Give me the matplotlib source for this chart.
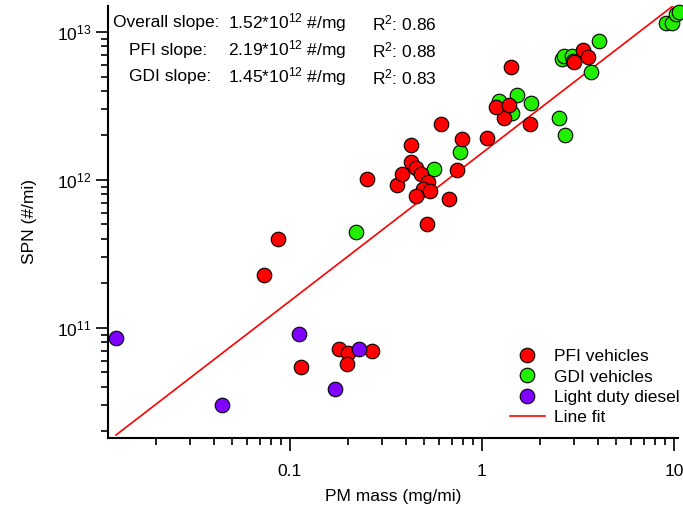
import numpy as np
import matplotlib
matplotlib.use("Agg")
import matplotlib.pyplot as plt
from matplotlib.ticker import LogLocator, NullFormatter, FixedLocator, FixedFormatter
from matplotlib.lines import Line2D

plt.rcParams['font.family'] = ['Liberation Sans', 'DejaVu Sans']
plt.rcParams['mathtext.fontset'] = 'custom'
plt.rcParams['mathtext.rm'] = 'Liberation Sans'
plt.rcParams['mathtext.default'] = 'regular'

# PM mass (mg/mi) and SPN (#/mi)
pfi_pm = [0.180, 0.200, 0.198, 0.267, 0.114, 0.0866, 0.0732, 0.252, 0.360, 0.383,
          0.426, 0.426, 0.453, 0.481, 0.525, 0.491, 0.538, 0.453, 0.519, 0.614,
          0.673, 0.783, 0.738, 1.058, 1.77, 1.30, 1.19, 1.38, 1.41, 3.37, 3.55, 3.03]
pfi_spn = [7.2e10, 6.77e10, 5.74e10, 6.98e10, 5.44e10, 4.01e11, 2.29e11, 1.02e12, 9.3e11, 1.09e12,
           1.71e12, 1.33e12, 1.20e12, 1.10e12, 9.66e11, 8.62e11, 8.45e11, 7.81e11, 5.05e11, 2.39e12,
           7.49e11, 1.90e12, 1.16e12, 1.92e12, 2.38e12, 2.62e12, 3.13e12, 3.21e12, 5.76e12, 7.55e12, 6.74e12, 6.23e12]

gdi_pm = [0.221, 0.560, 0.767, 2.51, 2.72, 1.79, 1.53, 1.43, 1.22, 3.68,
          4.08, 2.60, 2.67, 2.93, 2.99, 9.05, 9.73, 10.3, 10.66]
gdi_spn = [4.45e11, 1.19e12, 1.55e12, 2.64e12, 2.00e12, 3.29e12, 3.76e12, 2.84e12, 3.41e12, 5.38e12,
           8.65e12, 6.56e12, 6.91e12, 6.91e12, 6.39e12, 1.15e13, 1.16e13, 1.32e13, 1.36e13]

ldd_pm = [0.0124, 0.111, 0.229, 0.171, 0.0442]
ldd_spn = [8.55e10, 9.1e10, 7.2e10, 3.83e10, 3.0e10]

fit_slope = 1.52e12
fit_range = [0.0124, 10.6]

slopes = [("Overall slope:", "1.52", "0.86"),
          ("PFI slope:", "2.19", "0.88"),
          ("GDI slope:", "1.45", "0.83")]

W, H = 683, 512
FS = 12.5
fig = plt.figure(figsize=(W / 100, H / 100), dpi=100)
ax = fig.add_axes([108 / W, 1 - 438 / H, (678 - 108) / W, (438 - 6) / H])
ax.set_xscale('log')
ax.set_yscale('log')
ax.set_xlim(0.01127, 10.5)
ax.set_ylim(1.8e10, 1.5e13)

mk = dict(s=110, edgecolors='black', linewidths=0.8, zorder=3, clip_on=False)
fx = np.array(fit_range)
ax.plot(fx, fit_slope * fx, color='#ff0000', lw=1.2, zorder=2)
ax.scatter(gdi_pm, gdi_spn, c='#22ee00', **mk)
ax.scatter(pfi_pm, pfi_spn, c='#ff0000', **mk)
ax.scatter(ldd_pm, ldd_spn, c='#7f00ff', **mk)

for s in ['top', 'right']:
    ax.spines[s].set_visible(False)
for s in ['left', 'bottom']:
    ax.spines[s].set_linewidth(1.5)

ax.xaxis.set_major_locator(FixedLocator([0.1, 1, 10]))
ax.xaxis.set_major_formatter(FixedFormatter(['0.1', '1', '10']))
ax.yaxis.set_major_locator(FixedLocator([1e11, 1e12, 1e13]))
ax.yaxis.set_major_formatter(FixedFormatter(['10$^{11}$', '10$^{12}$', '10$^{13}$']))
for a in (ax.xaxis, ax.yaxis):
    a.set_minor_locator(LogLocator(base=10, subs=np.arange(2, 10), numticks=20))
    a.set_minor_formatter(NullFormatter())
ax.tick_params(which='major', direction='out', length=9, width=1.2, labelsize=FS, colors='black')
ax.tick_params(which='minor', direction='out', length=5, width=1.2)
ax.tick_params(axis='x', which='major', pad=10)
ax.tick_params(axis='y', which='major', pad=3)

ax.set_xlabel('PM mass (mg/mi)', fontsize=FS, labelpad=7)
ax.set_ylabel('SPN (#/mi)', fontsize=FS, labelpad=14)

rows_y = [23, 50, 77]
label_x = [113, 129, 129]
for (lab, val, r2), yy, lx in zip(slopes, rows_y, label_x):
    fig.text(lx / W, 1 - yy / H, lab, fontsize=FS, va='center')
    fig.text(228 / W, 1 - yy / H, val + '*10$^{12}$ #/mg', fontsize=FS, va='center')
    fig.text(372 / W, 1 - yy / H, 'R$^{2}$: ' + r2, fontsize=FS, va='center')

handles = [
    Line2D([], [], ls='none', marker='o', ms=10.5, mfc='#ff0000', mec='black', mew=0.8),
    Line2D([], [], ls='none', marker='o', ms=10.5, mfc='#22ee00', mec='black', mew=0.8),
    Line2D([], [], ls='none', marker='o', ms=10.5, mfc='#7f00ff', mec='black', mew=0.8),
    Line2D([], [], color='#ff0000', lw=1.2),
]
ax.legend(handles, ['PFI vehicles', 'GDI vehicles', 'Light duty diesel', 'Line fit'],
          loc='upper left', bbox_to_anchor=((510 - 108) / (678 - 108), (438 - 349) / (438 - 6)),
          frameon=False, fontsize=FS, handlelength=2.0, handletextpad=0.55,
          labelspacing=0.3, borderaxespad=0, borderpad=0)

fig.savefig('out.png', dpi=100)
